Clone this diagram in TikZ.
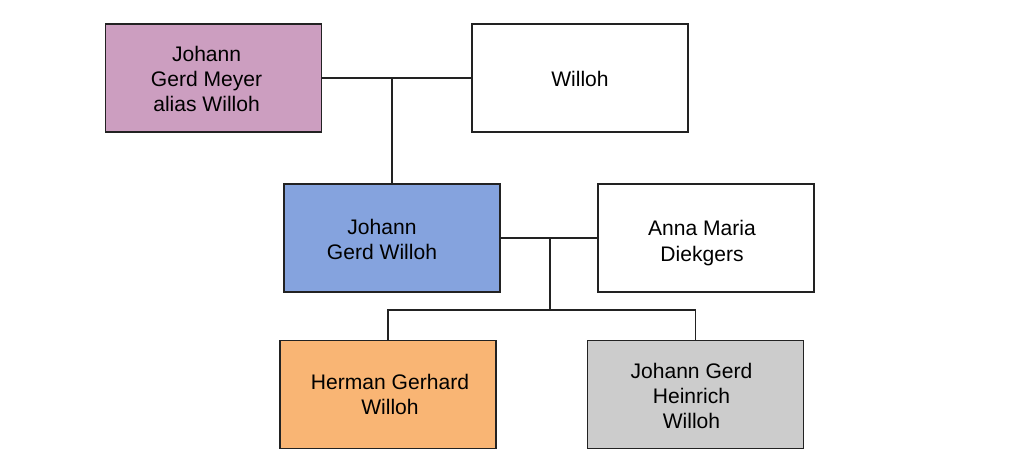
\documentclass[tikz,border=0pt]{standalone}
\usepackage{fontspec}
\setmainfont{Liberation Sans}
\definecolor{pinkbox}{HTML}{CC9EC0}
\definecolor{bluebox}{HTML}{85A3DE}
\definecolor{orangebox}{HTML}{F9B574}
\definecolor{graybox}{HTML}{CCCCCC}
\definecolor{edge}{HTML}{222222}
\begin{document}
\begin{tikzpicture}[x=0.75pt,y=-0.75pt,
  person/.style={draw=edge,line width=1.4pt,minimum width=216*0.75pt,minimum height=108*0.75pt,inner sep=0pt},
  txt/.style={align=center,inner sep=0pt,font=\fontsize{15.8pt}{18.8pt}\selectfont,text=black},
  link/.style={draw=edge,line width=1.4pt}]
\useasboundingbox (0,0) rectangle (1024,475);
\node[person,fill=pinkbox,label={[txt,xshift=-5.2pt,yshift=-0.8pt]center:Johann\\Gerd Meyer\\alias Willoh}] (A) at (213.5,78) {};
\node[person,fill=white,label={[txt,yshift=-0.8pt]center:Willoh}] (B) at (580,78) {};
\node[person,fill=bluebox,label={[txt,xshift=-7.5pt,yshift=-1.2pt]center:Johann\\Gerd Willoh}] (C) at (392,238) {};
\node[person,fill=white,label={[txt,xshift=-3pt,yshift=-3.8pt]center:Anna Maria\\Diekgers}] (D) at (706,238) {};
\node[person,fill=orangebox,label={[txt,xshift=1.5pt]center:Herman Gerhard\\Willoh}] (E) at (388,394.5) {};
\node[person,fill=graybox,label={[txt,xshift=-3pt,yshift=-1.2pt]center:Johann Gerd\\Heinrich\\Willoh}] (F) at (695.5,394.5) {};
\coordinate (m1) at (392,78);
\coordinate (m2) at (550,238);
\coordinate (m3) at (550,310);
\draw[link] (A.east) -- (B.west);
\draw[link] (m1) -- (C.north);
\draw[link] (C.east) -- (D.west);
\draw[link] (m2) -- (m3);
\draw[link] (E.north) |- (m3) -| (F.north);
\end{tikzpicture}
\end{document}
